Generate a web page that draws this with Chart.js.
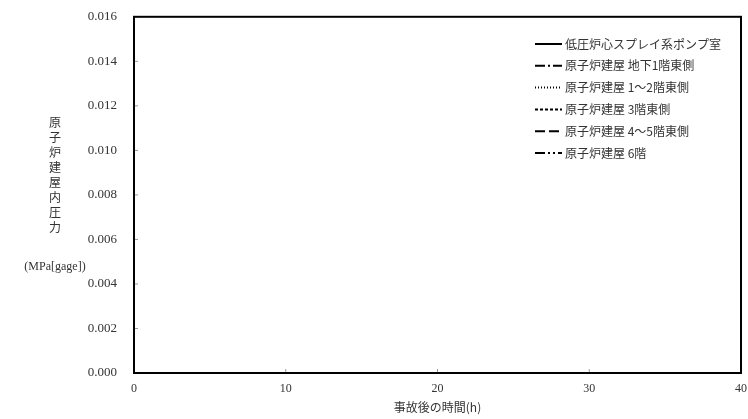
<!DOCTYPE html>
<html>
<head>
<meta charset="utf-8">
<script src="https://cdn.jsdelivr.net/npm/chart.js@4.4.0/dist/chart.umd.min.js"></script>
<style>
  body { margin: 0; background: #fff; }
  #wrap { position: relative; width: 748px; height: 419px; }
  #ytitle {
    position: absolute; left: 18px; top: 114px; width: 74px;
    font-family: "Noto Sans CJK JP", serif; font-size: 12px; color: #333;
    text-align: center; line-height: 15px;
  }
  #ytitle .unit { margin-top: 25px; font-family: "Liberation Serif", serif; font-size: 12px; }
</style>
</head>
<body>
<div id="wrap">
  <canvas id="myChart" width="748" height="419"></canvas>
  <div id="ytitle">原<br>子<br>炉<br>建<br>屋<br>内<br>圧<br>力<div class="unit">(MPa[gage])</div></div>
</div>
<script>
// time (h)
const hours = [0, 10, 20, 30, 40];
// pressure (MPa[gage]) - every area stays at 0 for the whole period
const pumpRoom = [0, 0, 0, 0, 0];
const basementEast = [0, 0, 0, 0, 0];
const floor1to2East = [0, 0, 0, 0, 0];
const floor3East = [0, 0, 0, 0, 0];
const floor4to5East = [0, 0, 0, 0, 0];
const floor6 = [0, 0, 0, 0, 0];

const labels = [
  '低圧炉心スプレイ系ポンプ室',
  '原子炉建屋 地下1階東側',
  '原子炉建屋 1～2階東側',
  '原子炉建屋 3階東側',
  '原子炉建屋 4～5階東側',
  '原子炉建屋 6階'
];
const dashes = [[], [10, 3, 2, 3], [1, 2], [3, 2], [10, 4], [10, 3, 2, 3, 2, 3]];

const serif = '"Liberation Serif", "Noto Sans CJK JP", serif';

function pts(vals) {
  return vals.map((v, i) => ({ x: hours[i], y: v }));
}

// frame + inward tick marks
const frame = {
  id: 'frame',
  afterDatasetsDraw(chart) {
    const { ctx, chartArea: a, scales } = chart;
    ctx.save();
    ctx.strokeStyle = '#999';
    ctx.lineWidth = 1;
    scales.x.ticks.forEach(t => {
      const px = scales.x.getPixelForValue(t.value);
      ctx.beginPath(); ctx.moveTo(px, a.bottom); ctx.lineTo(px, a.bottom - 4); ctx.stroke();
    });
    scales.y.ticks.forEach(t => {
      const py = scales.y.getPixelForValue(t.value);
      ctx.beginPath(); ctx.moveTo(a.left, py); ctx.lineTo(a.left + 4, py); ctx.stroke();
    });
    ctx.strokeStyle = '#000';
    ctx.lineWidth = 2;
    ctx.strokeRect(a.left, a.top, a.right - a.left, a.bottom - a.top);
    ctx.restore();
  }
};

// legend drawn inside the plot, lines with dash styles
const lineLegend = {
  id: 'lineLegend',
  afterDraw(chart) {
    const ctx = chart.ctx;
    ctx.save();
    ctx.font = '12px "Noto Sans CJK JP", serif';
    ctx.textBaseline = 'middle';
    chart.data.datasets.forEach((ds, i) => {
      const y = 44 + i * 21.8;
      ctx.strokeStyle = '#000';
      ctx.lineWidth = 2;
      ctx.setLineDash(ds.borderDash || []);
      ctx.beginPath(); ctx.moveTo(535, y); ctx.lineTo(562, y); ctx.stroke();
      ctx.setLineDash([]);
      ctx.fillStyle = '#333';
      ctx.fillText(ds.label, 565, y);
    });
    ctx.restore();
  }
};

const series = [pumpRoom, basementEast, floor1to2East, floor3East, floor4to5East, floor6];

new Chart(document.getElementById('myChart').getContext('2d'), {
  type: 'line',
  data: {
    datasets: series.map((s, i) => ({
      label: labels[i],
      data: pts(s),
      borderColor: '#000',
      borderWidth: 1.5,
      borderDash: dashes[i],
      pointRadius: 0,
      clip: false
    }))
  },
  options: {
    responsive: false,
    animation: false,
    layout: { padding: { top: 15, right: 7, left: 0, bottom: 0 } },
    plugins: { legend: { display: false }, tooltip: { enabled: false } },
    scales: {
      x: {
        type: 'linear', min: 0, max: 40,
        ticks: { stepSize: 10, color: '#333', font: { family: serif, size: 12 }, padding: 1 },
        grid: { display: false },
        border: { display: false },
        title: { display: true, text: '事故後の時間(h)', color: '#333', font: { family: '"Noto Sans CJK JP", serif', size: 12 }, padding: { top: 5 } },
        afterFit: s => { s.height = 46; }
      },
      y: {
        min: 0, max: 0.016,
        ticks: { stepSize: 0.002, color: '#333', font: { family: serif, size: 13 }, padding: 9,
          callback: v => v.toFixed(3) },
        grid: { display: false },
        border: { display: false },
        afterFit: s => { s.width = 134; }
      }
    }
  },
  plugins: [frame, lineLegend]
});
</script>
</body>
</html>
